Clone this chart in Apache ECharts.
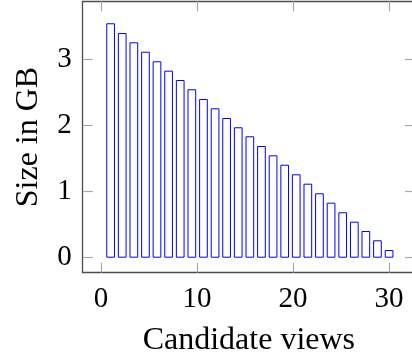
<!DOCTYPE html>
<html>
<head>
<meta charset="utf-8">
<script src="https://cdn.jsdelivr.net/npm/echarts@6/dist/echarts.min.js"></script>
<style>
  html, body { margin: 0; padding: 0; background: #fff; }
  #chart { width: 412px; height: 356px; }
</style>
</head>
<body>
<div id="chart"></div>
<script>
// Candidate view ids (x positions) and their storage size in GB
const viewIds = [1, 2.21, 3.42, 4.63, 5.83, 7.04, 8.25, 9.46, 10.67, 11.88, 13.08, 14.29,
                 15.5, 16.71, 17.92, 19.13, 20.33, 21.54, 22.75, 23.96, 25.17, 26.38,
                 27.58, 28.79, 30];
const sizesGB = [3.545, 3.398, 3.257, 3.115, 2.970, 2.828, 2.687, 2.547, 2.400, 2.259,
                 2.112, 1.972, 1.836, 1.689, 1.548, 1.406, 1.261, 1.119, 0.974, 0.832,
                 0.687, 0.544, 0.404, 0.263, 0.116];
const xTicks = [0, 10, 20, 30];
const yTicks = [0, 1, 2, 3];

const fontFamily = '"Liberation Serif", "DejaVu Serif", serif';
const frameColor = '#4d4d4d';
const tickColor = '#a8a8a8';

const chart = echarts.init(document.getElementById('chart'), null, { renderer: 'canvas' });

function xAxisDef(pos, withLabels) {
  return {
    type: 'value', position: pos, min: -1.906, max: 32.7,
    splitLine: { show: false },
    axisLine: { show: true, onZero: false, lineStyle: { color: frameColor, width: 1.3 } },
    axisTick: { show: true, inside: true, length: 10, customValues: xTicks,
                lineStyle: { color: tickColor, width: 1.2 } },
    axisLabel: { show: withLabels, customValues: xTicks, margin: 12,
                 color: '#000', fontFamily: fontFamily, fontSize: 29 },
    name: withLabels ? 'Candidate views' : '',
    nameLocation: 'middle', nameGap: 52,
    nameTextStyle: { color: '#000', fontFamily: fontFamily, fontSize: 32 }
  };
}
function yAxisDef(pos, withLabels) {
  return {
    type: 'value', position: pos, min: -0.227, max: 3.877,
    splitLine: { show: false },
    axisLine: { show: true, onZero: false, lineStyle: { color: frameColor, width: 1.3 } },
    axisTick: { show: true, inside: true, length: 10, customValues: yTicks,
                lineStyle: { color: tickColor, width: 1.2 } },
    axisLabel: { show: withLabels, customValues: yTicks, margin: 11,
                 color: '#000', fontFamily: fontFamily, fontSize: 29 },
    name: withLabels ? 'Size in GB' : '',
    nameLocation: 'middle', nameGap: 38,
    nameTextStyle: { color: '#000', fontFamily: fontFamily, fontSize: 32 }
  };
}

chart.setOption({
  animation: false,
  backgroundColor: '#fff',
  grid: { left: 82.7, top: 1.3, width: 332.3, height: 271.4,
          containLabel: false, outerBoundsMode: 'none' },
  xAxis: [xAxisDef('bottom', true), xAxisDef('top', false)],
  yAxis: [yAxisDef('left', true), yAxisDef('right', false)],
  series: [{
    type: 'bar',
    xAxisIndex: 0, yAxisIndex: 0,
    barWidth: 8.7,
    data: viewIds.map((x, i) => [x, sizesGB[i]]),
    itemStyle: { color: '#ffffff', borderColor: '#0000ff', borderWidth: 1 }
  }]
});
</script>
</body>
</html>
